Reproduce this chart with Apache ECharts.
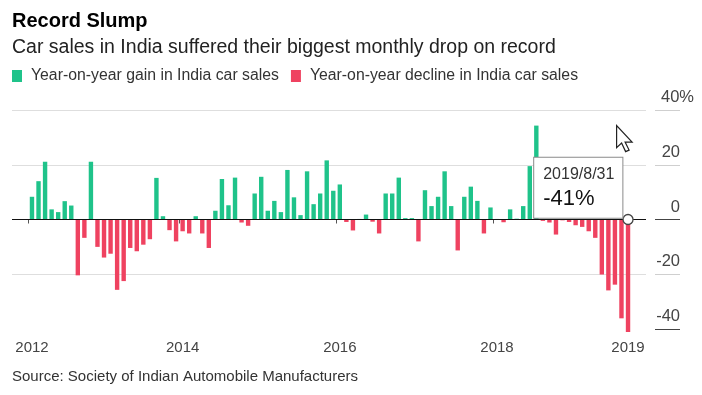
<!DOCTYPE html>
<html><head><meta charset="utf-8">
<script src="https://cdn.jsdelivr.net/npm/echarts@6/dist/echarts.min.js"></script>
<style>html,body{margin:0;padding:0;background:#fff}#c{width:702px;height:395px}</style>
</head><body><div id="c"></div>
<script>
// ---- data ----
const months = [
 '2012-01','2012-02','2012-03','2012-04','2012-05','2012-06','2012-07','2012-08','2012-09','2012-10','2012-11','2012-12',
 '2013-01','2013-02','2013-03','2013-04','2013-05','2013-06','2013-07','2013-08','2013-09','2013-10','2013-11','2013-12',
 '2014-01','2014-02','2014-03','2014-04','2014-05','2014-06','2014-07','2014-08','2014-09','2014-10','2014-11','2014-12',
 '2015-01','2015-02','2015-03','2015-04','2015-05','2015-06','2015-07','2015-08','2015-09','2015-10','2015-11','2015-12',
 '2016-01','2016-02','2016-03','2016-04','2016-05','2016-06','2016-07','2016-08','2016-09','2016-10','2016-11','2016-12',
 '2017-01','2017-02','2017-03','2017-04','2017-05','2017-06','2017-07','2017-08','2017-09','2017-10','2017-11','2017-12',
 '2018-01','2018-02','2018-03','2018-04','2018-05','2018-06','2018-07','2018-08','2018-09','2018-10','2018-11','2018-12',
 '2019-01','2019-02','2019-03','2019-04','2019-05','2019-06','2019-07','2019-08'
];
const yoyChange = [
 8.3, 14.0, 21.1, 3.7, 2.7, 6.7, 5.1, -20.4, -6.7, 21.1, -10.0, -13.9,
 -12.5, -25.7, -22.5, -10.4, -11.6, -9.2, -7.2, 15.2, 1.2, -3.9, -8.0, -4.3,
 -5.1, 1.2, -5.1, -10.4, 3.2, 14.8, 5.2, 15.3, -1.1, -2.3, 9.5, 15.6,
 3.2, 6.8, 2.7, 18.1, 8.1, 1.6, 17.6, 5.6, 9.5, 21.6, 10.5, 12.8,
 -0.9, -4.0, 0.2, 1.8, -0.8, -5.1, 9.5, 9.5, 15.3, 0.5, 0.5, -8.0,
 10.7, 4.9, 8.3, 17.6, 4.9, -11.3, 8.3, 12.0, 6.8, -5.1, 4.4, 0.2,
 -1.0, 3.7, 0.3, 4.9, 19.5, 34.3, -0.5, -1.1, -5.5, -0.3, -0.9, -2.1,
 -2.7, -4.3, -6.7, -20.1, -25.9, -23.8, -36.1, -41.09
];
const tickMonths = ['2012-01','2013-12','2015-12','2017-12','2019-08'];
const tickLabels = ['2012','2014','2016','2018','2019'];
const seriesNames = ['Year-on-year gain in India car sales','Year-on-year decline in India car sales'];
const tipDate = '2019/8/31';
const titleText = 'Record Slump';
const subtitleText = 'Car sales in India suffered their biggest monthly drop on record';
const sourceText = 'Source: Society of Indian Automobile Manufacturers';

// ---- derived ----
const gains = yoyChange.map(v => v > 0 ? v : '-');
const declines = yoyChange.map(v => v < 0 ? v : '-');
const lastIdx = yoyChange.length - 1;

const GREEN = '#1fc38a', RED = '#ef4260';
const FONT = '"Liberation Sans", Arial, sans-serif';
const chart = echarts.init(document.getElementById('c'), null, {renderer: 'canvas'});
const yCommon = {type: 'value', min: -40, max: 40, interval: 20};

chart.setOption({
  animation: false,
  textStyle: {fontFamily: FONT},
  title: [
    {text: titleText, left: 12, top: 11, padding: 0,
     textStyle: {fontSize: 20, fontWeight: 'bold', color: '#000', fontFamily: FONT}},
    {text: subtitleText, left: 12, top: 38, padding: 0,
     textStyle: {fontSize: 19.5, fontWeight: 'normal', color: '#222', fontFamily: FONT}},
    {text: sourceText, left: 12, top: 369, padding: 0,
     textStyle: {fontSize: 15, fontWeight: 'normal', color: '#333', fontFamily: FONT}}
  ],
  legend: {
    left: 12, top: 68, padding: 0, itemWidth: 10, itemHeight: 12, itemGap: 12, icon: 'rect',
    data: seriesNames,
    textStyle: {fontSize: 15.8, color: '#333', fontFamily: FONT, padding: [0, 0, 0, 4]}
  },
  grid: [
    {left: 12, right: 56, top: 110, height: 219},
    {left: 28.7, right: 70.7, top: 110, height: 219},
    {left: 655, right: 22, top: 110, height: 219}
  ],
  xAxis: [
    {type: 'value', gridIndex: 0, show: false},
    {type: 'category', gridIndex: 1, data: months, offset: 3,
     axisLine: {show: false},
     axisTick: {show: true, length: 4, interval: (i, v) => tickMonths.includes(v), lineStyle: {color: '#555'}},
     axisLabel: {interval: (i, v) => tickMonths.includes(v), margin: 8, fontSize: 15, color: '#444',
       formatter: v => tickLabels[tickMonths.indexOf(v)]}},
    {type: 'value', gridIndex: 2, show: false}
  ],
  yAxis: [
    Object.assign({gridIndex: 0, axisLabel: {show: false}, axisLine: {show: false}, axisTick: {show: false},
      splitLine: {show: true, lineStyle: {width: 1, color: ['rgba(0,0,0,0)', '#dedede', 'rgba(0,0,0,0)', '#dedede', '#dedede']}}}, yCommon),
    Object.assign({gridIndex: 1, show: false}, yCommon),
    Object.assign({gridIndex: 2, position: 'right', axisLine: {show: false}, axisTick: {show: false},
      splitLine: {show: true, lineStyle: {width: 1, color: ['#444', '#cfcfcf', '#444', '#cfcfcf', '#cfcfcf']}},
      axisLabel: {inside: true, margin: 0, verticalAlign: 'bottom', padding: [0, 0, 4, 0],
        fontSize: 16.5, color: '#444',
        formatter: v => v === 40 ? '{n|40}{p|%}' : String(v),
        rich: {n: {fontSize: 16.5, color: '#444'}, p: {fontSize: 16.5, color: '#444', padding: [0, -14, 0, 0]}}}}, yCommon),
    Object.assign({gridIndex: 0, z: 5, axisLabel: {show: false}, axisLine: {show: false}, axisTick: {show: false},
      splitLine: {show: true, lineStyle: {width: 1.2, color: ['rgba(0,0,0,0)', 'rgba(0,0,0,0)', '#111', 'rgba(0,0,0,0)', 'rgba(0,0,0,0)']}}}, yCommon)
  ],
  series: [
    {name: seriesNames[0], type: 'bar', xAxisIndex: 1, yAxisIndex: 1, data: gains,
     barWidth: 4.4, barGap: '-100%', itemStyle: {color: GREEN}, clip: false},
    {name: seriesNames[1], type: 'bar', xAxisIndex: 1, yAxisIndex: 1, data: declines,
     barWidth: 4.4, barGap: '-100%', itemStyle: {color: RED}, clip: false,
     markPoint: {
       symbol: 'circle', symbolSize: 10, z: 10,
       itemStyle: {color: '#fff', borderColor: '#444', borderWidth: 1.3},
       label: {show: true, position: [0, 4], align: 'right', verticalAlign: 'bottom',
         backgroundColor: '#fff', borderColor: '#8a8a8a', borderWidth: 1, padding: [6, 8, 6, 9],
         formatter: () => '{d|' + tipDate + '}\n{v|' + Math.round(yoyChange[lastIdx]) + '%}',
         rich: {d: {fontSize: 16, lineHeight: 22, color: '#333', fontFamily: FONT, align: 'left'},
                v: {fontSize: 22, lineHeight: 26, color: '#111', fontFamily: FONT, align: 'left'}}},
       data: [{coord: [months[lastIdx], 0], value: yoyChange[lastIdx]}]
     }}
  ],
  graphic: [{
    type: 'polygon', left: 616, top: 125, z: 100,
    shape: {points: [[0,0],[0,22],[5,17.5],[9,26],[12.5,24.5],[8.5,16.5],[15.5,16.5]]},
    style: {fill: '#fff', stroke: '#222', lineWidth: 1.2}
  }]
});
</script>
</body></html>
